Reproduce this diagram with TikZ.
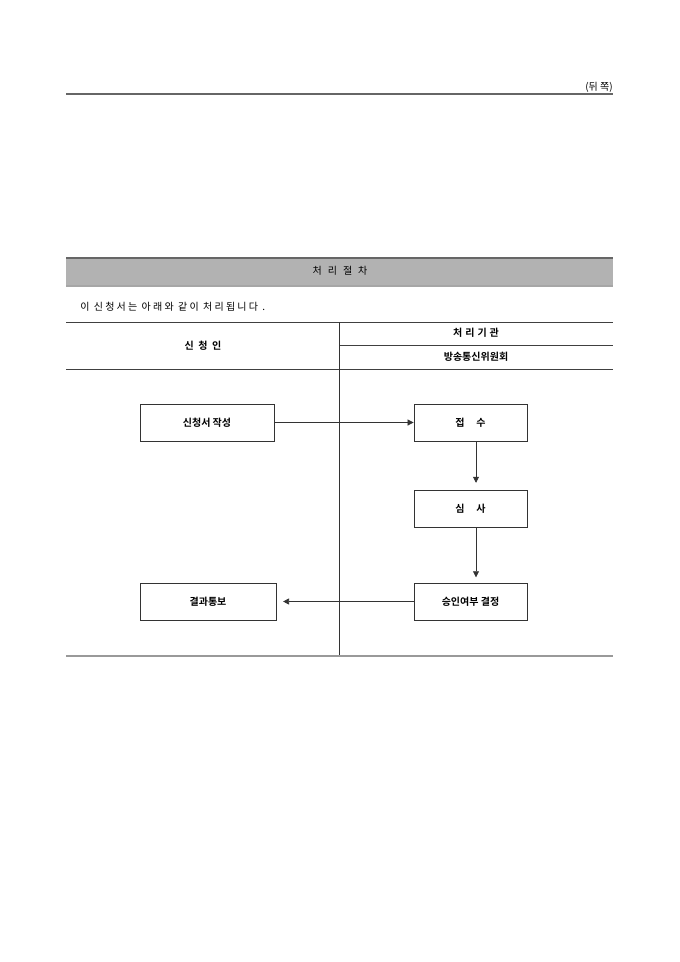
\documentclass[tikz,border=0pt]{standalone}
\usepackage{fontspec}
\setmainfont{Noto Sans CJK KR}
\newfontfamily\kr{Noto Sans CJK KR}
\newfontfamily\krb{Noto Sans CJK KR Bold}
\newfontfamily\krsp[LetterSpace=22]{Noto Sans CJK KR}
\usetikzlibrary{arrows.meta}
\begin{document}
\begin{tikzpicture}[x=0.75pt,y=-0.75pt,
  boxstyle/.style={draw=black!80,line width=0.6pt,minimum width=#1*0.75pt,minimum height=37*0.75pt,inner sep=0pt,font=\krb\fontsize{7.5pt}{8pt}\selectfont},
  boxstyle/.default=134,
  flow/.style={draw=black!80,line width=0.5pt,-{Triangle[length=4.5pt,width=4.5pt]}},
  rule/.style={line width=0.6pt,draw=black!75},
  lbl/.style={font=\krb\fontsize{7.5pt}{8pt}\selectfont,inner sep=0pt},
  plain/.style={font=\kr\fontsize{7.5pt}{8pt}\selectfont,inner sep=0pt}]
\useasboundingbox (0,0) rectangle (680,962);
\fill[white] (0,0) rectangle (680,962);
% top
\node[plain,anchor=east] (back) at (613,87) {(뒤 쪽)};
\draw[line width=2pt,draw=black!60] (66,94) -- (613,94);
% band
\fill[black!30] (66,259) rectangle (613,286);
\draw[line width=2pt,draw=black!60] (66,258) -- (613,258);
\draw[line width=1pt,draw=black!35] (66,286) -- (613,286);
\node[plain] (title) at (340,271) {처\hspace{0.6em}리\hspace{0.6em}절\hspace{0.6em}차};
\node[inner sep=0pt,anchor=west,font=\krsp\fontsize{7.5pt}{8pt}\selectfont] (intro) at (80,307) {이 신청서는 아래와 같이 처리됩니다 .};
% table
\draw[rule] (66,322) -- (613,322);
\draw[rule] (339,345) -- (613,345);
\draw[rule] (66,369) -- (613,369);
\draw[line width=0.7pt,draw=black!80] (339,322) -- (339,656);
\draw[line width=1.2pt,draw=black!40] (66,656) -- (613,656);
\node[lbl] (h1) at (203,346) {신\hspace{0.45em}청\hspace{0.45em}인};
\node[lbl] (h2) at (476,333) {처\hspace{0.3em}리\hspace{0.3em}기\hspace{0.3em}관};
\node[lbl] (h3) at (476,357) {방송통신위원회};
% boxes
\node[boxstyle=134] (a) at (207,422.5) {신청서 작성};
\node[boxstyle=113] (b) at (470.5,422.5) {접\hspace{1.2em}수};
\node[boxstyle=113] (c) at (470.5,509) {심\hspace{1.2em}사};
\node[boxstyle=113] (d) at (470.5,601.5) {승인여부 결정};
\node[boxstyle=136] (e) at (208,601.5) {결과통보};
% connectors
\draw[flow] (a.east) -- (b.west);
\draw[flow,shorten >=5.5pt] (b.south -| 476,0) -- (c.north -| 476,0);
\draw[flow,shorten >=4pt] (c.south -| 476,0) -- (d.north -| 476,0);
\draw[flow,shorten >=5pt] (d.west) -- (e.east);
\end{tikzpicture}
\end{document}
